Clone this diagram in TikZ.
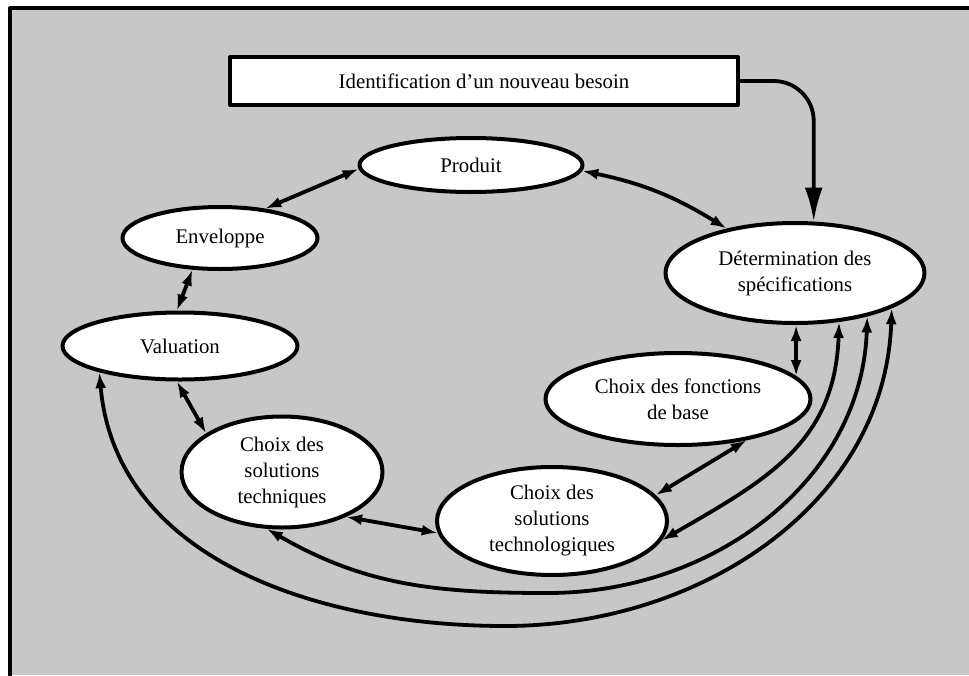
\documentclass[tikz,border=0pt]{standalone}
\usepackage{fontspec}
\setmainfont{Liberation Serif}
\usetikzlibrary{shapes.geometric,arrows.meta}
\begin{document}
\begin{tikzpicture}[x=0.5pt,y=0.5pt,>={Latex[length=8pt,width=5.5pt]}, font=\fontsize{10.4}{13}\selectfont, line join=round, line cap=round,
	oval/.style={ellipse,draw,line width=2pt,fill=white,inner sep=0pt,align=center},
	lien/.style={<->,line width=1.9pt}]
	\def\W{969} \def\H{675} % taille
	\useasboundingbox (0,0) rectangle (\W,-\H);
	% fond
	\fill[black!22] (10,-8) rectangle (\W,-\H);
	\draw[line width=2pt] (10,-\H)--(10,-8)--(\W,-8);
	% noeuds
	\node[draw,line width=2pt,fill=white,minimum width=254pt,minimum height=24pt] (besoin) at (484,-81) {Identification d'un nouveau besoin};
	\node[oval,minimum width=111.5pt,minimum height=27pt] (prod) at (471,-165) {Produit};
	\node[oval,minimum width=97.5pt,minimum height=31pt] (env) at (220,-238) {Enveloppe};
	\node[oval,minimum width=117.5pt,minimum height=33.5pt] (val) at (180,-346) {Valuation};
	\node[oval,minimum width=100.5pt,minimum height=55.5pt] (tech) at (282,-472) {Choix des\\solutions\\techniques};
	\node[oval,minimum width=115pt,minimum height=54pt] (techno) at (552,-521) {Choix des\\solutions\\technologiques};
	\node[oval,minimum width=132.5pt,minimum height=46pt] (fonct) at (678,-399) {Choix des fonctions\\de base};
	\node[oval,minimum width=129.5pt,minimum height=50pt] (spec) at (795,-273) {D\'etermination des\\sp\'ecifications};
	%\draw[gray,dashed] (0,0) grid[step=50] (\W,-\H);
	% liens
	\draw[->,line width=1.9pt,rounded corners=20pt,>={Latex[length=17pt,width=9pt]}] (besoin.east) -| (spec.70);
	\draw[lien] (prod.182)--(env.33);
	\draw[lien] (prod.357) to[bend left=10] (spec.147);
	\draw[lien] (env.229)--(val.95);
	\draw[lien] (val.265)--(tech.153);
	\draw[lien] (tech.325)--(techno.186);
	\draw[lien] (techno.14)--(fonct.329);
	\draw[lien] (fonct.11)--(fonct.11 |- spec.south);
	% grands arcs
	\coordinate (basB) at (548,-593);
	\coordinate (basC) at (505,-626);
	\draw[lien] (spec.312) to[out=268,in=30,looseness=1.1] (techno.350);
	\draw[lien] (spec.329) to[out=268,in=0] (basB) to[out=180,in=330] (tech.255);
	\draw[lien] (spec.340) to[out=268,in=0] (basC) to[out=180,in=275] (val.198);
\end{tikzpicture}
\end{document}
